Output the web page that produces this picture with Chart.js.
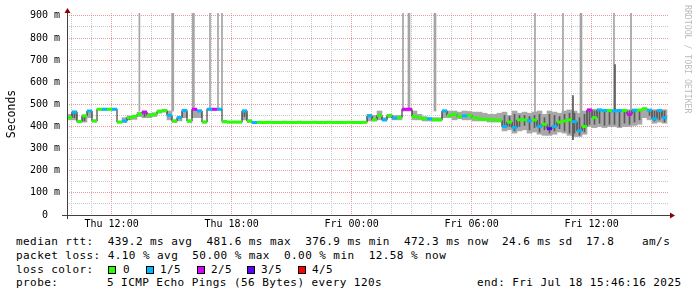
<!DOCTYPE html>
<html>
<head>
<meta charset="utf-8">
<script src="https://cdn.jsdelivr.net/npm/chart.js@4/dist/chart.umd.min.js"></script>
<style>
html, body { margin: 0; padding: 0; background: #fff; }
body { width: 697px; height: 297px; position: relative; overflow: hidden; font-family: 'DejaVu Sans Mono', monospace; }
#wrap { position: absolute; left: 0; top: 0; width: 697px; height: 232px; }
.t { position: absolute; font-size: 11px; line-height: 14px; white-space: pre; color: #000; letter-spacing: 0.43px; }
.box { position: absolute; width: 6px; height: 6px; border: 1px solid #000; top: 266px; }
#brand { position: absolute; left: 683px; top: 5px; font-size: 8.2px; color: #bbb; writing-mode: vertical-rl; white-space: pre; }
</style>
</head>
<body>
<div id="wrap"><canvas id="chart"></canvas></div>
<div id="legend"></div>
<div id="brand">RRDTOOL / TOBI OETIKER</div>
<script>
// time axis in clock hours since Thu 00:00, start of graph Thu 09:46:16
const startHour = 9 + 46 / 60 + 16 / 3600;
const spanHours = 30.1;
const stepHours = 0.25;

const hourTicks = [10, 11, 12, 13, 14, 15, 16, 17, 18, 19, 20, 21, 22, 23, 24,
    25, 26, 27, 28, 29, 30, 31, 32, 33, 34, 35, 36, 37, 38, 39];
const labelHours = [12, 18, 24, 30, 36];
const timeLabels = ['Thu 12:00', 'Thu 18:00', 'Fri 00:00', 'Fri 06:00', 'Fri 12:00'];
const yTicks = [0, 50, 100, 150, 200, 250, 300, 350, 400, 450, 500, 550, 600, 650, 700, 750, 800, 850, 900];

const lossColors = ['#26ff00', '#00b8ff', '#dd00ff', '#5e00ff', '#ff0000'];
const lossLabels = ['0', '1/5', '2/5', '3/5', '4/5'];

// median rtt (ms), one value per 15 min
const median = [
    440, 465, 422, 448, 470, 425, 478, 478, 478, 478,
    420, 425, 440, 445, 455, 465, 450, 455, 468, 472,
    450, 425, 440, 472, 425, 478, 470, 420, 478, 478,
    478, 423, 420, 420, 420, 470, 425, 418, 419, 418,
    419, 418, 418, 419, 418, 418, 419, 418, 418, 419,
    418, 418, 419, 418, 418, 418, 419, 418, 418, 419,
    448, 430, 450, 430, 450, 438, 440, 478, 478, 445,
    440, 435, 435, 430, 430, 470, 450, 455, 445, 448,
    450, 440, 435, 432, 432, 430, 428, 400, 420, 395,
    430, 430, 425, 430, 400, 410, 390, 400, 420, 425,
    430, 422, 380, 400, 475, 440, 475, 472, 472, 470,
    472, 472, 455, 474, 474, 480, 474, 435, 472, 440
];

// lost pings out of 5
const loss = [
    0, 1, 0, 0, 1, 0, 0, 1, 0, 1,
    0, 1, 0, 0, 0, 2, 0, 0, 0, 0,
    1, 0, 1, 1, 0, 2, 1, 0, 1, 2,
    1, 0, 0, 0, 0, 1, 0, 1, 0, 0,
    0, 0, 0, 0, 0, 0, 0, 0, 0, 0,
    0, 0, 0, 0, 0, 0, 0, 0, 0, 0,
    1, 0, 0, 1, 0, 1, 0, 2, 2, 0,
    0, 0, 1, 0, 0, 1, 0, 0, 0, 1,
    0, 0, 0, 0, 0, 0, 0, 1, 0, 1,
    0, 0, 1, 0, 1, 0, 3, 1, 0, 0,
    0, 1, 1, 0, 2, 0, 1, 1, 0, 1,
    1, 0, 2, 1, 0, 0, 1, 1, 1, 1
];

// smoke: spread of the pings (ms)
const smokeLo = [
    430, 430, 418, 420, 440, 420, 474, 474, 474, 474,
    416, 418, 430, 432, 445, 440, 440, 445, 460, 465,
    430, 418, 425, 440, 418, 440, 440, 416, 472, 472,
    472, 416, 416, 416, 416, 430, 418, 415, 415, 415,
    415, 415, 415, 415, 415, 415, 415, 415, 415, 415,
    415, 415, 415, 415, 415, 415, 415, 415, 415, 415,
    425, 425, 430, 425, 440, 430, 430, 470, 470, 430,
    430, 425, 425, 425, 425, 440, 440, 430, 435, 430,
    430, 425, 425, 425, 420, 420, 420, 380, 385, 370,
    380, 385, 370, 375, 365, 360, 360, 365, 375, 370,
    360, 355, 355, 365, 400, 395, 400, 395, 400, 400,
    395, 400, 400, 405, 410, 440, 430, 415, 420, 415
];
const smokeHi = [
    455, 470, 428, 452, 472, 430, 482, 482, 482, 482,
    424, 440, 448, 450, 465, 470, 460, 462, 475, 478,
    470, 430, 445, 478, 430, 480, 475, 425, 482, 482,
    482, 424, 424, 424, 424, 475, 430, 422, 422, 422,
    422, 422, 422, 422, 422, 422, 422, 422, 422, 422,
    422, 422, 422, 422, 422, 422, 422, 422, 422, 422,
    455, 450, 470, 440, 455, 450, 450, 482, 482, 470,
    455, 445, 440, 440, 440, 475, 470, 470, 465, 470,
    468, 465, 465, 460, 455, 455, 460, 465, 450, 470,
    460, 465, 460, 465, 470, 455, 470, 465, 460, 470,
    475, 470, 460, 470, 478, 478, 478, 476, 476, 476,
    478, 476, 476, 476, 478, 484, 478, 476, 476, 476
];
const darkLo = [
    null, 440, null, 425, null, null, null, null, null, null,
    null, null, 432, null, null, 445, null, null, null, null,
    null, null, null, null, null, null, null, null, null, null,
    null, null, null, null, null, 445, null, null, null, null,
    null, null, null, null, null, null, null, null, null, null,
    null, null, null, null, null, null, null, null, null, null,
    null, null, null, null, null, null, null, null, null, null,
    null, null, null, null, null, null, null, null, null, null,
    null, null, null, null, null, null, null, 395, 400, 380,
    400, 405, 385, 395, 375, 385, 370, 380, 390, 380,
    370, 370, 360, 375, 410, 410, 415, 405, 410, 410,
    400, 415, 410, 420, 430, null, 450, 425, 430, 420
];
const darkHi = [
    null, 465, null, 450, null, null, null, null, null, null,
    null, null, 445, null, null, 462, null, null, null, null,
    null, null, null, null, null, null, null, null, null, null,
    null, null, null, null, null, 470, null, null, null, null,
    null, null, null, null, null, null, null, null, null, null,
    null, null, null, null, null, null, null, null, null, null,
    null, null, null, null, null, null, null, null, null, null,
    null, null, null, null, null, null, null, null, null, null,
    null, null, null, null, null, null, null, 450, 445, 455,
    450, 450, 445, 450, 455, 440, 455, 450, 445, 455,
    460, 460, 440, 455, 470, 470, 470, 470, 468, 470,
    470, 468, 470, 470, 472, null, 472, 470, 470, 470
];

// single pings far above the scale (clock hours, lowest ms)
const thinSpikeHours = [13.39, 16.92, 17.32, 17.52, 26.57, 33.17, 34.57, 37.12, 37.97];
const thinSpikeLow = [470, 478, 478, 478, 470, 460, 460, 470, 470];
const wideSpikeHours = [15.06, 16.09, 26.87, 28.17, 35.47];
const wideSpikeLow = [470, 478, 478, 470, 400];
const spikeTop = 1000;
const tallHours = [35.07, 37.17];
const tallLo = [340, 470];
const tallHi = [540, 680];

const sampleHour = i => startHour + stepHours * (i + 0.5);
const range = (lo, hi) => lo.map((v, i) => ({ x: sampleHour(i), y: v === null ? null : [v, hi[i]] }));

const MONO = 'DejaVu Sans Mono';
const majorGrid = 'rgba(225, 120, 120, 0.75)';
const minorGrid = '#c8c8c8';

const axisArrows = {
    id: 'axisArrows',
    afterDatasetsDraw(chart) {
        const { ctx, chartArea: a } = chart;
        ctx.save();
        ctx.strokeStyle = '#404040';
        ctx.lineWidth = 1;
        ctx.beginPath();
        ctx.moveTo(a.left - 5, a.bottom + 0.5);
        ctx.lineTo(a.right + 2, a.bottom + 0.5);
        ctx.moveTo(a.left + 0.5, a.bottom + 4);
        ctx.lineTo(a.left + 0.5, a.top - 2);
        ctx.stroke();
        ctx.fillStyle = '#8b0000';
        ctx.beginPath();
        ctx.moveTo(a.left + 0.5, a.top - 5);
        ctx.lineTo(a.left - 2.5, a.top + 0);
        ctx.lineTo(a.left + 3.5, a.top + 0);
        ctx.fill();
        ctx.beginPath();
        ctx.moveTo(a.right + 6, a.bottom + 0.5);
        ctx.lineTo(a.right + 1, a.bottom - 2.5);
        ctx.lineTo(a.right + 1, a.bottom + 3.5);
        ctx.fill();
        ctx.restore();
    }
};

new Chart(document.getElementById('chart'), {
    type: 'bar',
    data: {
        datasets: [
            {
                type: 'line',
                data: median.map((v, i) => ({ x: sampleHour(i), y: v })),
                stepped: 'middle',
                borderColor: '#1a1a1a',
                borderWidth: 1,
                pointStyle: 'line',
                pointRadius: 2.5,
                pointBorderWidth: 3,
                pointBorderColor: loss.map(l => lossColors[l]),
                pointBackgroundColor: loss.map(l => lossColors[l]),
                order: 0,
            },
            {
                data: range(darkLo, darkHi),
                backgroundColor: '#5a5a5a',
                barThickness: 1,
                grouped: false,
                order: 1,
            },
            {
                data: tallHours.map((h, i) => ({ x: h, y: [tallLo[i], tallHi[i]] })),
                backgroundColor: '#555555',
                barThickness: 1,
                grouped: false,
                order: 1,
            },
            {
                data: thinSpikeHours.map((h, i) => ({ x: h, y: [thinSpikeLow[i], spikeTop] })),
                backgroundColor: '#a4a4a4',
                barThickness: 1,
                grouped: false,
                order: 2,
            },
            {
                data: wideSpikeHours.map((h, i) => ({ x: h, y: [wideSpikeLow[i], spikeTop] })),
                backgroundColor: '#a4a4a4',
                barThickness: 2,
                grouped: false,
                order: 2,
            },
            {
                data: range(smokeLo, smokeHi),
                backgroundColor: '#a8a8a8',
                barThickness: 5,
                grouped: false,
                order: 3,
            },
        ]
    },
    options: {
        responsive: true,
        maintainAspectRatio: false,
        animation: false,
        events: [],
        layout: { padding: { left: 0, right: 28, top: 13, bottom: 0 } },
        plugins: { legend: { display: false }, tooltip: { enabled: false } },
        scales: {
            x: {
                type: 'linear',
                min: startHour,
                max: startHour + spanHours,
                offset: false,
                afterBuildTicks: s => { s.ticks = hourTicks.map(v => ({ value: v })); },
                afterFit: s => { s.height = 17; },
                ticks: {
                    autoSkip: false,
                    maxRotation: 0,
                    padding: 3,
                    color: '#000',
                    font: { family: MONO, size: 10 },
                    callback: v => {
                        const k = labelHours.indexOf(v);
                        return k < 0 ? '' : timeLabels[k];
                    },
                },
                grid: {
                    offset: false,
                    drawTicks: false,
                    color: c => labelHours.includes(c.tick && c.tick.value) ? majorGrid : minorGrid,
                },
                border: { display: false, dash: [1, 1] },
            },
            y: {
                min: 0,
                max: 913,
                afterBuildTicks: s => { s.ticks = yTicks.map(v => ({ value: v })); },
                afterFit: s => { s.width = 67; },
                ticks: {
                    autoSkip: false,
                    padding: 7,
                    color: '#000',
                    font: { family: MONO, size: 10 },
                    callback: v => v % 100 !== 0 ? '' : (v === 0 ? '0  ' : v + ' m'),
                },
                grid: {
                    drawTicks: false,
                    color: c => c.tick && c.tick.value % 100 === 0 ? majorGrid : minorGrid,
                },
                border: { display: false, dash: [1, 1] },
                title: {
                    display: true,
                    text: 'Seconds',
                    color: '#000',
                    font: { family: MONO, size: 11.5 },
                    padding: { top: 5, bottom: 3 },
                },
            },
        },
    },
    plugins: [axisArrows],
});

// legend block under the graph
const legendRows = [
    [234.7, [[16, 'median rtt:  439.2 ms avg  481.6 ms max  376.9 ms min  472.3 ms now'],
             [502, '24.6 ms sd'], [586, '17.8'], [642, 'am/s']]],
    [248.7, [[16, 'packet loss: 4.10 % avg  50.00 % max  0.00 % min  12.58 % now']]],
    [262.7, [[16, 'loss color:']]],
    [276.3, [[16, 'probe:'], [107, '5 ICMP Echo Pings (56 Bytes) every 120s'],
             [477, 'end: Fri Jul 18 15:46:16 2025']]],
];
const boxX = [108, 146, 197, 247, 298];
const boxLabelX = [123, 160, 211, 261, 312];

const legend = document.getElementById('legend');
legendRows.forEach(([top, parts]) => {
    parts.forEach(([left, text]) => {
        const el = document.createElement('div');
        el.className = 't';
        el.style.left = left + 'px';
        el.style.top = top + 'px';
        el.textContent = text;
        legend.appendChild(el);
    });
});
lossLabels.forEach((label, i) => {
    const box = document.createElement('div');
    box.className = 'box';
    box.style.left = boxX[i] + 'px';
    box.style.background = lossColors[i];
    legend.appendChild(box);
    const el = document.createElement('div');
    el.className = 't';
    el.style.left = boxLabelX[i] + 'px';
    el.style.top = '262.7px';
    el.textContent = label;
    legend.appendChild(el);
});
</script>
</body>
</html>
